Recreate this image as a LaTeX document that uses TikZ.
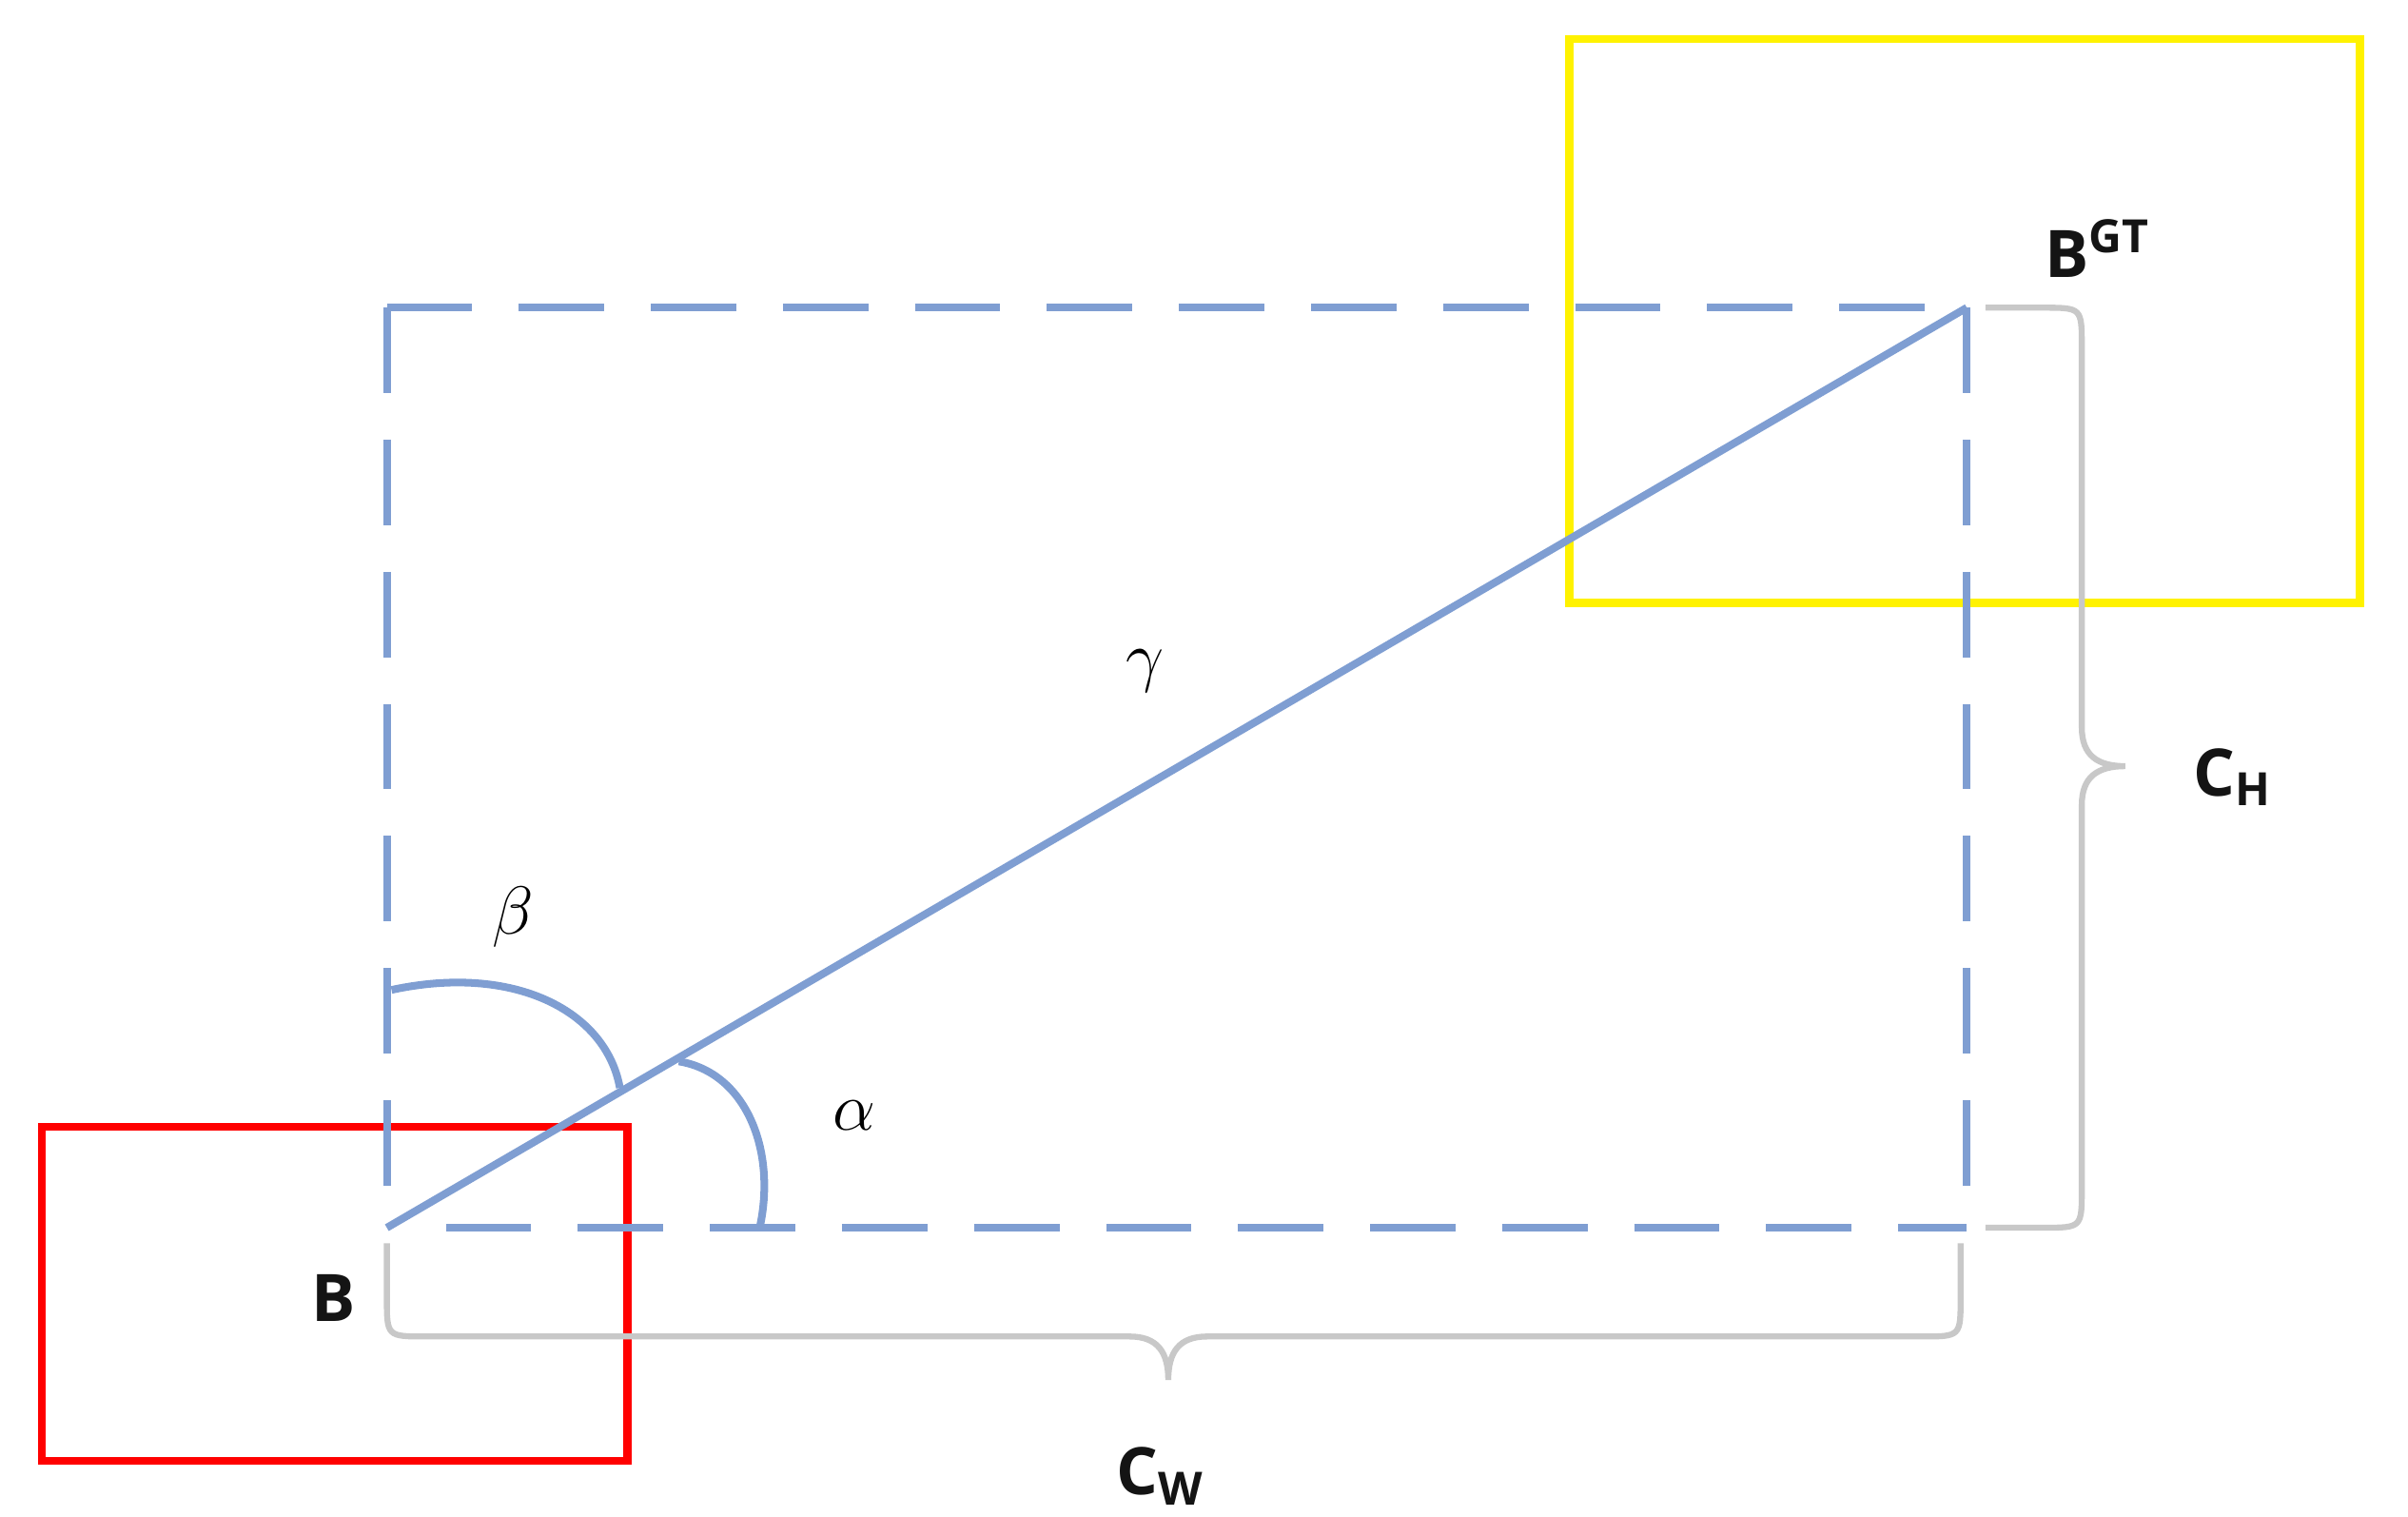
\documentclass[tikz,border=0pt]{standalone}
\usepackage{fontspec}
\setmainfont{Open Sans}
\begin{document}
\begin{tikzpicture}[x=0.02cm,y=-0.02cm,
  bl/.style={draw={rgb,255:red,127;green,158;blue,210},line width=2.8pt},
  bldash/.style={bl,dash pattern=on 1.1cm off 0.6cm},
  gbrace/.style={draw={rgb,255:red,200;green,200;blue,200},line width=2.2pt},
  lbl/.style={font=\fontsize{24}{28}\selectfont\bfseries,text={rgb,255:red,20;green,20;blue,20}},
  gk/.style={font=\fontsize{36}{40}\selectfont}]
\useasboundingbox (0,0) rectangle (1550,975.6);
\coordinate (B) at (249,790);
\coordinate (G) at (1266,198);
\draw[red,line width=3pt] (27,725) rectangle (404,940);
\draw[yellow,line width=3pt] (1010,25) rectangle (1519,388);
\draw[bldash] (249,198) -- (1266,198);
\draw[bldash] (249,198) -- (249,790);
\draw[bldash] (287,790) -- (1266,790);
\draw[bldash] (1266,198) -- (1266,790);
\draw[bl] (B) -- (G);
\draw[bl] (252,637) .. controls (330,620) and (390,650) .. (399,700);
\draw[bl] (437,683) .. controls (480,690) and (500,740) .. (489,790);
\node[gk] (beta) at (330,590) {$\beta$};
\node[gk] (alpha) at (550,718) {$\alpha$};
\node[gk] (gamma) at (737,432) {$\gamma$};
\draw[gbrace] (249,800) -- (249,835) .. controls (249,860) .. (274,860) -- (727,860) .. controls (745,860) and (752,870) .. (752,888)
  .. controls (752,870) and (759,860) .. (777,860) -- (1237,860) .. controls (1262,860) .. (1262,835) -- (1262,800);
\draw[gbrace] (1278,198) -- (1315,198) .. controls (1340,198) .. (1340,223) -- (1340,468) .. controls (1340,486) and (1350,493) .. (1368,493)
  .. controls (1350,493) and (1340,500) .. (1340,518) -- (1340,765) .. controls (1340,790) .. (1315,790) -- (1278,790);
\node[lbl] (lB) at (215,835) {B};
\node[lbl] (lGT) at (1350,160) {B\textsuperscript{GT}};
\node[lbl] (lCH) at (1437,500) {C\textsubscript{H}};
\node[lbl] (lCW) at (747,950) {C\textsubscript{W}};
\end{tikzpicture}
\end{document}
